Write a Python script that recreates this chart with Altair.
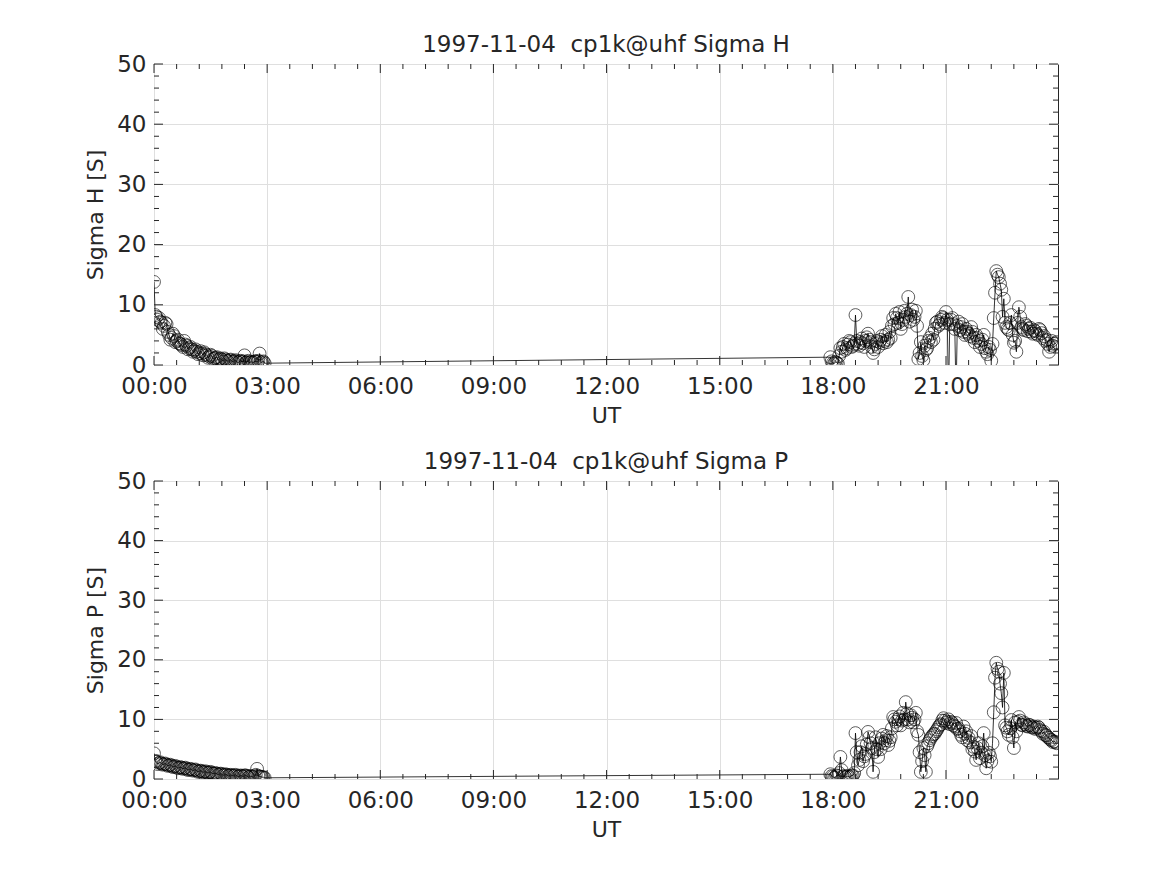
import altair as alt
import pandas as pd

# sample times (minutes after 00:00 UT)
early_min = [0, 4, 8, 12, 16, 20, 24, 28, 32, 36, 40, 44, 48, 52, 56, 60, 64, 68, 72, 76,
             80, 84, 88, 92, 96, 100, 104, 108, 112, 116, 120, 124, 128, 132, 136, 140,
             144, 148, 152, 156, 160, 164, 168, 172, 176]
early_b_min = [2, 6, 10, 14, 18, 22, 26, 30, 34, 38, 42, 46, 50, 54, 58, 62, 66, 70, 74,
               78, 82, 86, 90, 94, 98, 102, 106, 110, 114, 118, 122, 126, 130, 134, 138,
               142, 146, 150, 154, 158, 162, 166, 170, 174]
evening_min = [1076, 1080, 1084, 1088, 1092, 1096, 1100, 1104, 1108, 1112, 1116, 1120,
               1124, 1128, 1132, 1136, 1140, 1144, 1148, 1152, 1156, 1160, 1164, 1168,
               1172, 1176, 1180, 1184, 1188, 1192, 1196, 1200, 1204, 1208, 1212, 1216,
               1220, 1224, 1228, 1232, 1236, 1240, 1244, 1248, 1252, 1256, 1260, 1264,
               1268, 1272, 1276, 1280, 1284, 1288, 1292, 1296, 1300, 1304, 1308, 1312,
               1316, 1320, 1324, 1328, 1332, 1336, 1340, 1344, 1348, 1352, 1356, 1360,
               1364, 1368, 1372, 1376, 1380, 1384, 1388, 1392, 1396, 1400, 1404, 1408,
               1412, 1416, 1420, 1424, 1428, 1432, 1436]
evening_b_min = [1078, 1082, 1086, 1090, 1094, 1098, 1102, 1106, 1110, 1114, 1118, 1122,
                 1126, 1130, 1134, 1138, 1142, 1146, 1150, 1154, 1158, 1162, 1166, 1170,
                 1174, 1178, 1182, 1186, 1190, 1194, 1198, 1202, 1206, 1210, 1214, 1218,
                 1222, 1226, 1230, 1234, 1238, 1242, 1246, 1250, 1254, 1258, 1262, 1266,
                 1270, 1274, 1278, 1282, 1286, 1290, 1294, 1298, 1302, 1306, 1310, 1314,
                 1318, 1322, 1326, 1330, 1334, 1338, 1342, 1346, 1350, 1354, 1358, 1362,
                 1366, 1370, 1374, 1378, 1382, 1386, 1390, 1394, 1398, 1402, 1406, 1410,
                 1414, 1418, 1422, 1426, 1430, 1434]

sigma_h_early = [13.8, 8.0, 7.8, 7.0, 6.5, 6.8, 5.0, 4.5, 4.8, 4.0, 3.6, 3.3, 4.0, 3.2,
                 2.8, 2.6, 2.4, 2.2, 2.0, 1.9, 2.1, 1.6, 1.4, 1.5, 1.1, 1.3, 1.0, 0.9,
                 1.1, 0.7, 0.8, 0.6, 0.7, 0.5, 0.6, 0.5, 1.6, 0.5, 0.4, 0.5, 0.6, 0.5,
                 1.9, 0.5, 0.3]
sigma_h_early_b = [8.3, 7.5, 7.2, 6.0, 7.0, 5.5, 4.2, 5.2, 3.8, 4.2, 3.5,
                   3.0, 3.4, 2.6, 3.0, 2.2, 2.6, 1.8, 2.3, 1.6, 1.8, 1.2,
                   1.7, 1.0, 1.2, 0.8, 1.1, 0.6, 0.9, 0.6, 0.9, 0.5, 0.8,
                   0.4, 0.7, 0.6, 0.4, 0.7, 0.5, 0.4, 0.6, 0.7, 0.4, 0.6]
sigma_h_evening = [1.3, 0.3, 0.5, 0.2, 2.8, 3.0, 2.5, 3.4, 3.8, 3.2, 8.3, 3.5,
                   3.8, 3.6, 4.0, 5.2, 3.8, 2.0, 3.5, 3.0, 4.2, 3.6, 5.0, 4.2,
                   4.5, 7.8, 8.5, 7.0, 6.0, 7.5, 8.0, 11.3, 8.3, 7.5, 9.0, 1.0,
                   3.8, 0.8, 2.5, 4.0, 3.8, 4.2, 7.0, 6.5, 7.5, 7.8, 8.8, -5.0,
                   7.5, 6.8, -5.0, 7.2, 6.3, 5.5, 6.0, 5.2, 6.3, 4.5, 5.0, 4.0,
                   3.5, 5.0, 2.2, 3.0, 0.7, 7.8, 15.6, 14.6, 12.5, 11.0, 6.3, 5.8,
                   8.3, 3.7, 2.2, 9.6, 6.3, 5.8, 6.5, 6.0, 5.5, 5.8, 5.2, 6.0,
                   5.3, 4.8, 4.2, 2.2, 4.0, 3.5, 3.8]
sigma_h_evening_b = [0.6, 0.2, 0.4, 1.5, 2.2, 3.5, 2.8, 4.0, 3.0, 3.5, 4.0, 3.2,
                     4.4, 3.0, 4.6, 4.2, 3.0, 2.6, 4.0, 3.8, 4.8, 4.0, 3.8, 5.5,
                     6.5, 6.8, 7.8, 8.8, 6.8, 9.0, 8.5, 7.2, 9.2, 8.0, 6.5, 2.0,
                     1.5, 3.2, 2.8, 4.5, 5.2, 6.0, 7.2, 6.8, 8.0, 7.0, 7.5, 6.8,
                     7.8, 6.0, 6.5, 5.8, 6.8, 5.0, 5.5, 4.8, 5.5, 3.8, 4.5, 3.0,
                     4.2, 2.8, 1.8, 2.5, 3.5, 12.0, 15.0, 13.5, 8.0, 7.0, 6.0, 7.0,
                     5.0, 4.0, 7.0, 8.0, 6.0, 6.8, 5.6, 6.2, 5.2, 5.6, 5.0, 5.8,
                     4.5, 4.0, 3.5, 3.0, 3.2, 3.6]

sigma_p_early = [4.3, 2.9, 2.7, 2.6, 2.5, 2.4, 2.3, 2.2, 2.1, 2.0, 1.9, 1.9, 1.8, 1.7,
                 1.6, 1.6, 1.5, 1.4, 1.3, 1.3, 1.2, 1.1, 1.1, 1.0, 0.9, 0.9, 0.8, 0.8,
                 0.7, 0.7, 0.6, 0.6, 0.6, 0.5, 0.5, 0.5, 0.6, 0.5, 0.4, 0.4, 0.5, 1.7,
                 0.4, 0.3, 0.2]
sigma_p_early_b = [3.0, 2.5, 2.8, 2.4, 2.6, 2.2, 2.4, 2.0, 2.2, 1.8, 2.0,
                   1.7, 1.9, 1.5, 1.7, 1.4, 1.6, 1.2, 1.4, 1.1, 1.3, 1.0,
                   1.2, 0.9, 1.0, 0.7, 0.9, 0.6, 0.8, 0.5, 0.7, 0.5, 0.7,
                   0.4, 0.6, 0.4, 0.6, 0.3, 0.5, 0.3, 0.7, 0.5, 0.4, 0.3]
sigma_p_evening = [0.8, 0.4, 0.3, 0.5, 3.7, 0.4, 0.3, 0.5, 0.4, 0.6, 7.7, 2.3,
                   4.5, 3.0, 4.2, 7.9, 6.0, 1.2, 7.0, 3.7, 5.0, 7.4, 6.5, 5.7,
                   7.0, 10.4, 9.6, 10.0, 9.0, 11.1, 12.9, 10.0, 10.7, 9.5, 11.1, 7.4,
                   1.2, 5.2, 1.2, 6.0, 6.9, 7.5, 8.0, 8.7, 9.2, 10.2, 9.4, 10.0,
                   9.6, 9.0, 9.4, 8.5, 7.4, 8.8, 8.0, 6.9, 7.2, 5.4, 3.2, 6.0,
                   4.4, 7.7, 1.8, 4.4, 2.9, 11.2, 19.5, 18.0, 14.4, 17.8, 8.6, 7.4,
                   9.9, 5.2, 8.0, 10.4, 9.1, 9.5, 8.9, 9.1, 8.7, 8.8, 8.6, 8.6,
                   8.0, 7.9, 7.3, 6.9, 6.5, 6.3, 6.0]
sigma_p_evening_b = [0.5, 0.2, 0.6, 1.0, 1.5, 0.5, 0.4, 0.3, 0.6, 1.0, 4.5, 3.2,
                     5.5, 3.8, 5.8, 7.0, 5.2, 4.5, 5.0, 6.0, 6.8, 6.0, 7.2, 6.4,
                     8.5, 10.0, 9.0, 10.5, 9.8, 10.0, 11.0, 9.5, 10.3, 10.0, 8.0, 4.5,
                     3.0, 4.0, 5.5, 6.5, 7.2, 7.6, 8.3, 9.0, 9.8, 9.8, 9.6, 9.2,
                     9.4, 8.8, 8.4, 8.0, 7.0, 7.6, 6.5, 6.2, 5.0, 4.6, 5.2, 3.5,
                     5.5, 4.0, 3.0, 3.8, 6.0, 17.0, 18.5, 16.0, 12.0, 9.0, 8.0, 8.5,
                     7.0, 9.5, 9.6, 9.8, 9.0, 9.2, 8.8, 9.0, 8.6, 8.4, 8.8, 8.2,
                     7.6, 7.4, 7.0, 6.6, 6.2, 6.2]

x_major = [0, 3, 6, 9, 12, 15, 18, 21]
x_minor = [0.6, 1.2, 1.8, 2.4, 3.6, 4.2, 4.8, 5.4, 6.6, 7.2, 7.8, 8.4, 9.6, 10.2, 10.8,
           11.4, 12.6, 13.2, 13.8, 14.4, 15.6, 16.2, 16.8, 17.4, 18.6, 19.2, 19.8,
           20.4, 21.6, 22.2, 22.8, 23.4]
y_major = [0, 10, 20, 30, 40, 50]
y_minor = [2, 4, 6, 8, 12, 14, 16, 18, 22, 24, 26, 28, 32, 34, 36, 38, 42, 44, 46, 48]

W = 904
INK = "#262626"
FONT = "DejaVu Sans"

xs = alt.Scale(domain=[0, 23.97], nice=False, zero=False)
ys = alt.Scale(domain=[0, 50], nice=False, zero=False)

x_axis = alt.Axis(values=x_major, title="UT", grid=True,
                  labelExpr="(datum.value < 10 ? '0' : '') + datum.value + ':00'",
                  labelPadding=10, titlePadding=7, labelFlush=False)


def y_axis(title):
    return alt.Axis(values=y_major, title=title, grid=True,
                    labelPadding=8, titlePadding=9, labelFlush=False)


def tick_layers(H, ya):
    layers = []
    for vals, ln in ((x_major, 9), (x_minor, 5)):
        d = alt.Chart(pd.DataFrame({"t": vals})).mark_rule(color=INK, strokeWidth=1)
        layers.append(d.encode(x=alt.X("t:Q", scale=xs, axis=x_axis),
                               y=alt.value(H), y2=alt.value(H - ln)))
        layers.append(d.encode(x=alt.X("t:Q", scale=xs, axis=x_axis),
                               y=alt.value(0), y2=alt.value(ln)))
    for vals, ln in ((y_major, 9), (y_minor, 5)):
        d = alt.Chart(pd.DataFrame({"t": vals})).mark_rule(color=INK, strokeWidth=1)
        layers.append(d.encode(y=alt.Y("t:Q", scale=ys, axis=ya),
                               x=alt.value(0), x2=alt.value(ln)))
        layers.append(d.encode(y=alt.Y("t:Q", scale=ys, axis=ya),
                               x=alt.value(W), x2=alt.value(W - ln)))
    return layers


def panel(values, ytitle, title, H):
    ya = y_axis(ytitle)
    minutes = early_min + early_b_min + evening_min + evening_b_min
    df = pd.DataFrame({"hour": [m / 60 for m in minutes], "v": values})
    df = df.sort_values("hour")
    base = alt.Chart(df)
    line = base.mark_line(color="black", strokeWidth=0.8, clip=True).encode(
        x=alt.X("hour:Q", scale=xs, axis=x_axis),
        y=alt.Y("v:Q", scale=ys, axis=ya),
        order="hour:Q",
    )
    pts = base.mark_point(shape="circle", filled=False, color="black", size=165,
                          strokeWidth=0.9, clip=True).encode(
        x=alt.X("hour:Q", scale=xs, axis=x_axis),
        y=alt.Y("v:Q", scale=ys, axis=ya),
    )
    return alt.layer(line, pts, *tick_layers(H, ya)).properties(
        width=W, height=H,
        title=alt.TitleParams(title, offset=-4),
    )


top = panel(sigma_h_early + sigma_h_early_b + sigma_h_evening + sigma_h_evening_b,
            "Sigma H [S]", "1997-11-04\u00a0 cp1k@uhf Sigma H", 301)
bottom = panel(sigma_p_early + sigma_p_early_b + sigma_p_evening + sigma_p_evening_b,
               "Sigma P [S]", "1997-11-04\u00a0 cp1k@uhf Sigma P", 298)

chart = alt.vconcat(top, bottom, spacing=23).properties(
    padding={"left": 76, "top": 25, "right": 5, "bottom": 5},
    background="white",
).configure_view(stroke=INK, strokeWidth=1).configure_axis(
    labelFont=FONT, labelFontSize=23, labelColor=INK,
    titleFont=FONT, titleFontSize=22, titleFontWeight="normal", titleColor=INK,
    ticks=False, tickSize=0, domain=False,
    gridColor="#dfdfdf", gridWidth=1,
).configure_title(
    font=FONT, fontSize=23, fontWeight="normal", color=INK, anchor="middle",
)

chart.save("out.html", embed_options={"renderer": "svg", "actions": False})
